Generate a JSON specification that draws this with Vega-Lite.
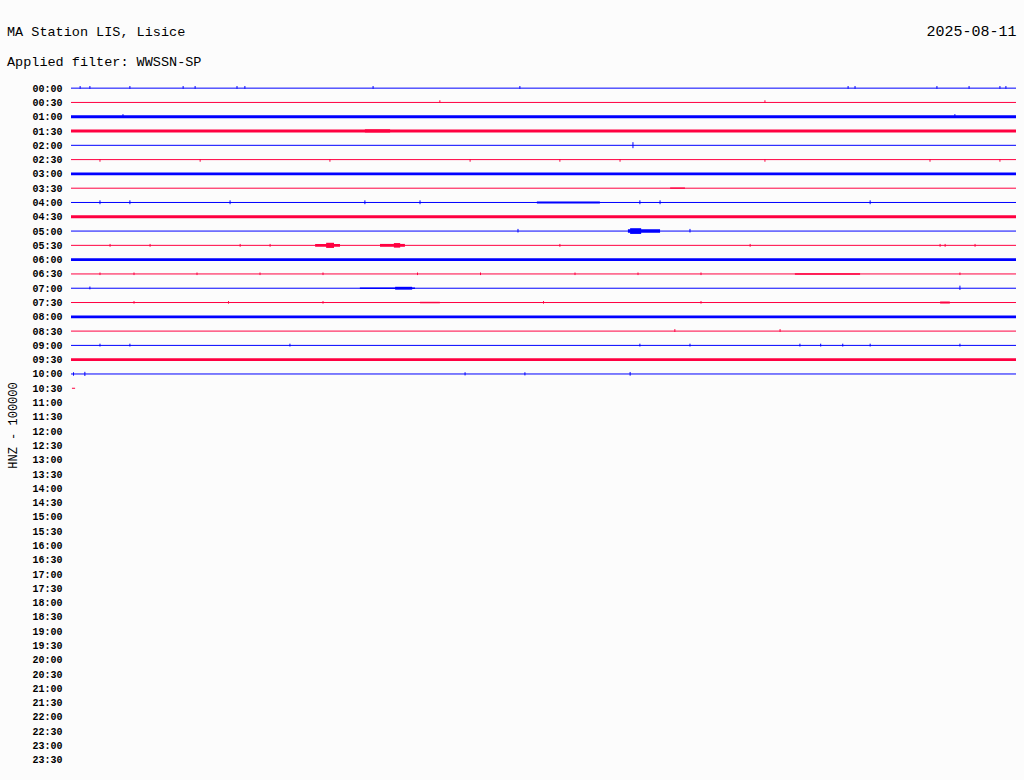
{
  "$schema": "https://vega.github.io/schema/vega-lite/v6.json",
  "width": 945,
  "height": 686,
  "autosize": {"type": "none"},
  "padding": {"left": 71, "top": 81, "right": 8, "bottom": 13},
  "background": "#fcfcfc",
  "config": {
    "view": {"stroke": null},
    "font": "Liberation Mono",
    "axisY": {
      "values": [0,1,2,3,4,5,6,7,8,9,10,11,12,13,14,15,16,17,18,19,20,21,22,23,24,25,26,27,28,29,30,31,32,33,34,35,36,37,38,39,40,41,42,43,44,45,46,47],
      "labelOverlap": false,
      "labelFlush": false,
      "labelExpr": "(floor(datum.value/2) < 10 ? '0' : '') + floor(datum.value/2) + (datum.value % 2 ? ':30' : ':00')",
      "domain": false,
      "ticks": false,
      "grid": false,
      "labelPadding": 9,
      "labelFont": "Liberation Mono",
      "labelFontSize": 10,
      "labelFontWeight": "bold",
      "labelColor": "#000000",
      "labelBaseline": "middle"
    }
  },
  "title": {
    "text": ["MA Station LIS, Lisice", "Applied filter: WWSSN-SP"],
    "anchor": "start",
    "frame": "bounds",
    "font": "Liberation Mono",
    "fontSize": 13.5,
    "fontWeight": "normal",
    "lineHeight": 30,
    "color": "#000000",
    "dy": 49,
    "dx": 1
  },
  "datasets": {
    "rows": [
      {"r": 0, "half": ":00", "start": 0, "end": 30},
      {"r": 1, "half": ":30", "start": 0, "end": 30},
      {"r": 2, "half": ":00", "start": 0, "end": 30},
      {"r": 3, "half": ":30", "start": 0, "end": 30},
      {"r": 4, "half": ":00", "start": 0, "end": 30},
      {"r": 5, "half": ":30", "start": 0, "end": 30},
      {"r": 6, "half": ":00", "start": 0, "end": 30},
      {"r": 7, "half": ":30", "start": 0, "end": 30},
      {"r": 8, "half": ":00", "start": 0, "end": 30},
      {"r": 9, "half": ":30", "start": 0, "end": 30},
      {"r": 10, "half": ":00", "start": 0, "end": 30},
      {"r": 11, "half": ":30", "start": 0, "end": 30},
      {"r": 12, "half": ":00", "start": 0, "end": 30},
      {"r": 13, "half": ":30", "start": 0, "end": 30},
      {"r": 14, "half": ":00", "start": 0, "end": 30},
      {"r": 15, "half": ":30", "start": 0, "end": 30},
      {"r": 16, "half": ":00", "start": 0, "end": 30},
      {"r": 17, "half": ":30", "start": 0, "end": 30},
      {"r": 18, "half": ":00", "start": 0, "end": 30},
      {"r": 19, "half": ":30", "start": 0, "end": 30},
      {"r": 20, "half": ":00", "start": 0, "end": 30},
      {"r": 21, "half": ":30", "start": 0.03, "end": 0.13}
    ],
    "bands": [
      {"r": 2, "half": ":00", "start": 0, "end": 30, "lo": 1.9, "hi": 2.1},
      {"r": 3, "half": ":30", "start": 0, "end": 30, "lo": 2.9, "hi": 3.1},
      {"r": 3, "half": ":30", "start": 9.33, "end": 10.13, "lo": 2.88, "hi": 3.1},
      {"r": 6, "half": ":00", "start": 0, "end": 30, "lo": 5.9, "hi": 6.1},
      {"r": 7, "half": ":30", "start": 19.02, "end": 19.49, "lo": 6.95, "hi": 7.04},
      {"r": 8, "half": ":00", "start": 14.79, "end": 16.79, "lo": 7.93, "hi": 8.07},
      {"r": 9, "half": ":30", "start": 0, "end": 30, "lo": 8.9, "hi": 9.1},
      {"r": 10, "half": ":00", "start": 17.68, "end": 18.7, "lo": 9.88, "hi": 10.12},
      {"r": 10, "half": ":00", "start": 17.75, "end": 18.1, "lo": 9.8, "hi": 10.2},
      {"r": 11, "half": ":30", "start": 7.75, "end": 8.54, "lo": 10.9, "hi": 11.1},
      {"r": 11, "half": ":30", "start": 8.1, "end": 8.35, "lo": 10.82, "hi": 11.18},
      {"r": 11, "half": ":30", "start": 9.81, "end": 10.6, "lo": 10.9, "hi": 11.1},
      {"r": 11, "half": ":30", "start": 10.25, "end": 10.45, "lo": 10.84, "hi": 11.16},
      {"r": 12, "half": ":00", "start": 0, "end": 30, "lo": 11.9, "hi": 12.1},
      {"r": 13, "half": ":30", "start": 22.98, "end": 25.05, "lo": 12.95, "hi": 13.05},
      {"r": 14, "half": ":00", "start": 9.17, "end": 10.92, "lo": 13.95, "hi": 14.05},
      {"r": 14, "half": ":00", "start": 10.29, "end": 10.83, "lo": 13.9, "hi": 14.1},
      {"r": 15, "half": ":30", "start": 11.08, "end": 11.71, "lo": 14.95, "hi": 15.05},
      {"r": 15, "half": ":30", "start": 27.59, "end": 27.9, "lo": 14.93, "hi": 15.07},
      {"r": 16, "half": ":00", "start": 0, "end": 30, "lo": 15.9, "hi": 16.1},
      {"r": 19, "half": ":30", "start": 0, "end": 30, "lo": 18.9, "hi": 19.1}
    ],
    "spikes": [
      {"r": 0, "half": ":00", "m": 0.29, "lo": -0.15, "hi": 0.04},
      {"r": 0, "half": ":00", "m": 0.6, "lo": -0.15, "hi": 0.04},
      {"r": 0, "half": ":00", "m": 1.87, "lo": -0.15, "hi": 0.04},
      {"r": 0, "half": ":00", "m": 3.56, "lo": -0.15, "hi": 0.04},
      {"r": 0, "half": ":00", "m": 3.94, "lo": -0.15, "hi": 0.04},
      {"r": 0, "half": ":00", "m": 5.27, "lo": -0.15, "hi": 0.04},
      {"r": 0, "half": ":00", "m": 5.52, "lo": -0.15, "hi": 0.04},
      {"r": 0, "half": ":00", "m": 9.59, "lo": -0.15, "hi": 0.04},
      {"r": 0, "half": ":00", "m": 14.25, "lo": -0.15, "hi": 0.04},
      {"r": 0, "half": ":00", "m": 24.67, "lo": -0.15, "hi": 0.04},
      {"r": 0, "half": ":00", "m": 24.89, "lo": -0.15, "hi": 0.04},
      {"r": 0, "half": ":00", "m": 27.49, "lo": -0.15, "hi": 0.04},
      {"r": 0, "half": ":00", "m": 28.51, "lo": -0.15, "hi": 0.04},
      {"r": 0, "half": ":00", "m": 29.49, "lo": -0.15, "hi": 0.04},
      {"r": 0, "half": ":00", "m": 29.68, "lo": -0.15, "hi": 0.04},
      {"r": 1, "half": ":30", "m": 11.71, "lo": 0.85, "hi": 1.04},
      {"r": 1, "half": ":30", "m": 22.03, "lo": 0.85, "hi": 1.04},
      {"r": 2, "half": ":00", "m": 1.65, "lo": 1.82, "hi": 2.04},
      {"r": 2, "half": ":00", "m": 28.06, "lo": 1.82, "hi": 2.04},
      {"r": 4, "half": ":00", "m": 17.84, "lo": 3.78, "hi": 4.2},
      {"r": 5, "half": ":30", "m": 0.92, "lo": 4.96, "hi": 5.15},
      {"r": 5, "half": ":30", "m": 4.1, "lo": 4.96, "hi": 5.15},
      {"r": 5, "half": ":30", "m": 8.22, "lo": 4.96, "hi": 5.15},
      {"r": 5, "half": ":30", "m": 12.67, "lo": 4.96, "hi": 5.15},
      {"r": 5, "half": ":30", "m": 15.52, "lo": 4.96, "hi": 5.15},
      {"r": 5, "half": ":30", "m": 17.43, "lo": 4.96, "hi": 5.15},
      {"r": 5, "half": ":30", "m": 22.03, "lo": 4.96, "hi": 5.15},
      {"r": 5, "half": ":30", "m": 27.27, "lo": 4.96, "hi": 5.15},
      {"r": 5, "half": ":30", "m": 29.49, "lo": 4.96, "hi": 5.15},
      {"r": 8, "half": ":00", "m": 0.92, "lo": 7.85, "hi": 8.12},
      {"r": 8, "half": ":00", "m": 1.87, "lo": 7.85, "hi": 8.12},
      {"r": 8, "half": ":00", "m": 5.05, "lo": 7.85, "hi": 8.12},
      {"r": 8, "half": ":00", "m": 9.33, "lo": 7.85, "hi": 8.12},
      {"r": 8, "half": ":00", "m": 11.08, "lo": 7.85, "hi": 8.12},
      {"r": 8, "half": ":00", "m": 18.06, "lo": 7.85, "hi": 8.12},
      {"r": 8, "half": ":00", "m": 18.7, "lo": 7.85, "hi": 8.12},
      {"r": 8, "half": ":00", "m": 25.37, "lo": 7.85, "hi": 8.12},
      {"r": 10, "half": ":00", "m": 14.19, "lo": 9.85, "hi": 10.1},
      {"r": 10, "half": ":00", "m": 19.65, "lo": 9.85, "hi": 10.1},
      {"r": 11, "half": ":30", "m": 1.24, "lo": 10.9, "hi": 11.1},
      {"r": 11, "half": ":30", "m": 2.51, "lo": 10.9, "hi": 11.1},
      {"r": 11, "half": ":30", "m": 5.37, "lo": 10.9, "hi": 11.1},
      {"r": 11, "half": ":30", "m": 6.32, "lo": 10.9, "hi": 11.1},
      {"r": 11, "half": ":30", "m": 15.52, "lo": 10.9, "hi": 11.1},
      {"r": 11, "half": ":30", "m": 21.56, "lo": 10.9, "hi": 11.1},
      {"r": 11, "half": ":30", "m": 27.59, "lo": 10.9, "hi": 11.1},
      {"r": 11, "half": ":30", "m": 27.75, "lo": 10.9, "hi": 11.1},
      {"r": 11, "half": ":30", "m": 28.7, "lo": 10.9, "hi": 11.1},
      {"r": 13, "half": ":30", "m": 0.92, "lo": 12.9, "hi": 13.08},
      {"r": 13, "half": ":30", "m": 2.0, "lo": 12.9, "hi": 13.08},
      {"r": 13, "half": ":30", "m": 4.0, "lo": 12.9, "hi": 13.08},
      {"r": 13, "half": ":30", "m": 6.0, "lo": 12.9, "hi": 13.08},
      {"r": 13, "half": ":30", "m": 8.0, "lo": 12.9, "hi": 13.08},
      {"r": 13, "half": ":30", "m": 11.0, "lo": 12.9, "hi": 13.08},
      {"r": 13, "half": ":30", "m": 13.0, "lo": 12.9, "hi": 13.08},
      {"r": 13, "half": ":30", "m": 16.0, "lo": 12.9, "hi": 13.08},
      {"r": 13, "half": ":30", "m": 18.0, "lo": 12.9, "hi": 13.08},
      {"r": 13, "half": ":30", "m": 20.0, "lo": 12.9, "hi": 13.08},
      {"r": 13, "half": ":30", "m": 28.22, "lo": 12.9, "hi": 13.08},
      {"r": 14, "half": ":00", "m": 0.6, "lo": 13.88, "hi": 14.08},
      {"r": 14, "half": ":00", "m": 28.22, "lo": 13.82, "hi": 14.12},
      {"r": 15, "half": ":30", "m": 2.0, "lo": 14.9, "hi": 15.08},
      {"r": 15, "half": ":30", "m": 5.0, "lo": 14.9, "hi": 15.08},
      {"r": 15, "half": ":30", "m": 8.0, "lo": 14.9, "hi": 15.08},
      {"r": 15, "half": ":30", "m": 15.0, "lo": 14.9, "hi": 15.08},
      {"r": 15, "half": ":30", "m": 20.0, "lo": 14.9, "hi": 15.08},
      {"r": 17, "half": ":30", "m": 19.17, "lo": 16.86, "hi": 17.06},
      {"r": 17, "half": ":30", "m": 22.51, "lo": 16.86, "hi": 17.06},
      {"r": 18, "half": ":00", "m": 0.92, "lo": 17.88, "hi": 18.08},
      {"r": 18, "half": ":00", "m": 1.87, "lo": 17.88, "hi": 18.08},
      {"r": 18, "half": ":00", "m": 6.95, "lo": 17.88, "hi": 18.08},
      {"r": 18, "half": ":00", "m": 18.06, "lo": 17.88, "hi": 18.08},
      {"r": 18, "half": ":00", "m": 19.65, "lo": 17.88, "hi": 18.08},
      {"r": 18, "half": ":00", "m": 23.14, "lo": 17.88, "hi": 18.08},
      {"r": 18, "half": ":00", "m": 23.8, "lo": 17.88, "hi": 18.08},
      {"r": 18, "half": ":00", "m": 24.5, "lo": 17.88, "hi": 18.08},
      {"r": 18, "half": ":00", "m": 25.37, "lo": 17.88, "hi": 18.08},
      {"r": 18, "half": ":00", "m": 28.22, "lo": 17.88, "hi": 18.08},
      {"r": 20, "half": ":00", "m": 0.08, "lo": 19.88, "hi": 20.12},
      {"r": 20, "half": ":00", "m": 0.44, "lo": 19.85, "hi": 20.14},
      {"r": 20, "half": ":00", "m": 12.51, "lo": 19.88, "hi": 20.1},
      {"r": 20, "half": ":00", "m": 14.41, "lo": 19.88, "hi": 20.1},
      {"r": 20, "half": ":00", "m": 17.75, "lo": 19.86, "hi": 20.12}
    ]
  },
  "layer": [
    {
      "data": {"name": "bands"},
      "mark": {"type": "rect"},
      "encoding": {
        "x": {
          "field": "start",
          "type": "quantitative",
          "scale": {"domain": [0, 30], "nice": false, "zero": false},
          "axis": {
            "orient": "top",
            "labels": false,
            "ticks": false,
            "domain": false,
            "grid": false,
            "title": "2025-08-11",
            "titleX": 945,
            "titleY": -51,
            "titleAlign": "right",
            "titleBaseline": "middle",
            "titleFont": "Liberation Mono",
            "titleFontSize": 15,
            "titleFontWeight": "normal",
            "titleColor": "#000000"
          }
        },
        "x2": {"field": "end"},
        "y": {
          "field": "lo",
          "type": "quantitative",
          "scale": {"domain": [-0.5, 47.5], "nice": false, "zero": false, "reverse": true},
          "axis": {
            "values": [0,1,2,3,4,5,6,7,8,9,10,11,12,13,14,15,16,17,18,19,20,21,22,23,24,25,26,27,28,29,30,31,32,33,34,35,36,37,38,39,40,41,42,43,44,45,46,47],
            "labelOverlap": false,
            "title": "HNZ - 100000",
            "titleX": -59,
            "titleY": 344,
            "titleAngle": -90,
            "titleAlign": "center",
            "titleBaseline": "middle",
            "titleFont": "Liberation Mono",
            "titleFontSize": 12,
            "titleFontWeight": "normal",
            "titleColor": "#000000"
          }
        },
        "y2": {"field": "hi"},
        "color": {
          "field": "half",
          "type": "nominal",
          "scale": {"domain": [":00", ":30"], "range": ["#0000ff", "#ff0040"]},
          "legend": null
        }
      }
    },
    {
      "data": {"name": "rows"},
      "mark": {"type": "rule", "strokeWidth": 1},
      "encoding": {
        "x": {"field": "start", "type": "quantitative"},
        "x2": {"field": "end"},
        "y": {"field": "r", "type": "quantitative", "axis": {"values": [0,1,2,3,4,5,6,7,8,9,10,11,12,13,14,15,16,17,18,19,20,21,22,23,24,25,26,27,28,29,30,31,32,33,34,35,36,37,38,39,40,41,42,43,44,45,46,47], "labelOverlap": false}},
        "color": {"field": "half", "type": "nominal"}
      }
    },
    {
      "data": {"name": "spikes"},
      "mark": {"type": "rule", "strokeWidth": 1},
      "encoding": {
        "x": {"field": "m", "type": "quantitative"},
        "y": {"field": "lo", "type": "quantitative", "axis": {"values": [0,1,2,3,4,5,6,7,8,9,10,11,12,13,14,15,16,17,18,19,20,21,22,23,24,25,26,27,28,29,30,31,32,33,34,35,36,37,38,39,40,41,42,43,44,45,46,47], "labelOverlap": false}},
        "y2": {"field": "hi"},
        "color": {"field": "half", "type": "nominal"}
      }
    }
  ]
}
